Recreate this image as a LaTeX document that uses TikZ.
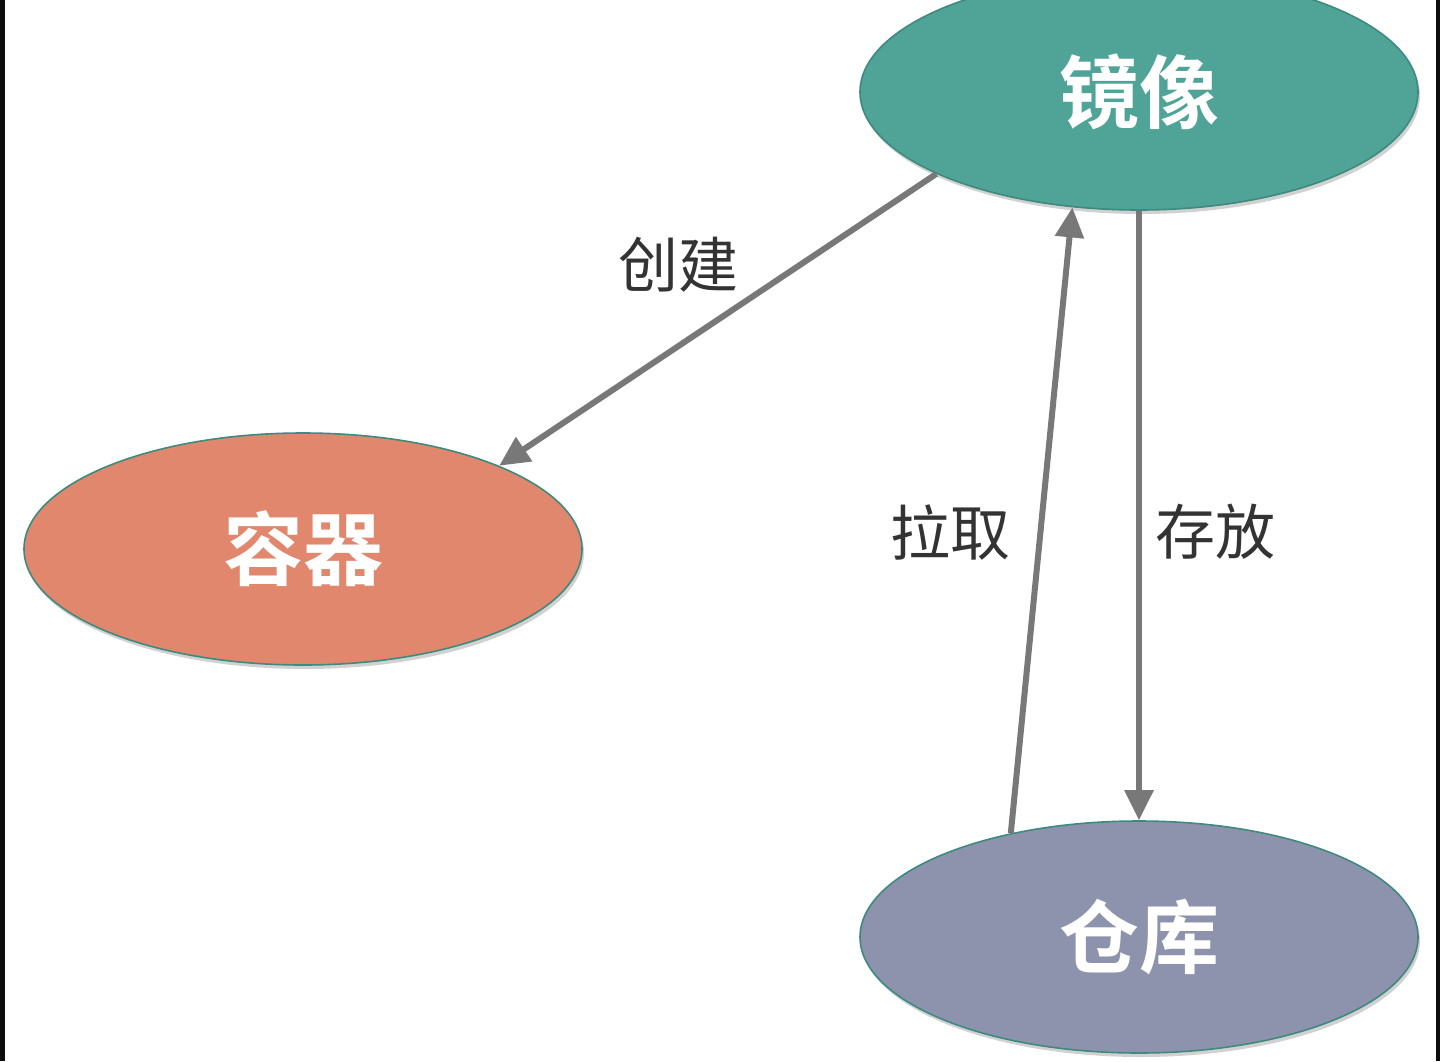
\documentclass[tikz,border=0pt]{standalone}
\usepackage{fontspec}
\newfontfamily\cjk{Noto Sans CJK SC}
\newfontfamily\cjkb{Noto Sans CJK SC Bold}
\usetikzlibrary{shapes.geometric,arrows.meta,shadows}
\definecolor{imgc}{HTML}{4FA397}
\definecolor{ctrc}{HTML}{E0876D}
\definecolor{repc}{HTML}{8E93AD}
\definecolor{edgec}{HTML}{3E8A7E}
\definecolor{linkc}{HTML}{787878}
\definecolor{labc}{HTML}{333333}
\tikzset{
  blob/.style={ellipse, draw=edgec, line width=0.8pt, inner sep=0pt,
    minimum width=279pt, minimum height=116pt, text=white,
    font=\cjkb\fontsize{40}{44}\selectfont,
    drop shadow={shadow xshift=1pt, shadow yshift=-2pt, fill=black, opacity=0.18}},
  link/.style={draw=linkc, line width=3pt, -{Triangle[length=15pt,width=14pt]}},
  lab/.style={text=labc, font=\cjk\fontsize{30}{34}\selectfont, inner sep=0pt}
}
\begin{document}
\begin{tikzpicture}[x=0.5pt,y=-0.5pt]
\useasboundingbox (0,0) rectangle (1440,1061);
\fill[white] (0,0) rectangle (1440,1061);
\fill[black!95] (0,0) rectangle (5,1061);
\fill[black!95] (1436,0) rectangle (1440,1061);
\node[blob, fill=imgc, minimum height=118pt] (img) at (1139,92) {镜像};
\node[blob, fill=ctrc] (ctr) at (303,549) {容器};
\node[blob, fill=repc] (rep) at (1139,937) {仓库};
\draw[link] (img.202) -- (ctr.23);
\draw[link] (rep.141) -- (img.240);
\draw[link] (img.south) -- (rep.north);
\node[lab] (l1) at (678,265) {创建};
\node[lab] (l2) at (950,532) {拉取};
\node[lab] (l3) at (1215,532) {存放};
\end{tikzpicture}
\end{document}
